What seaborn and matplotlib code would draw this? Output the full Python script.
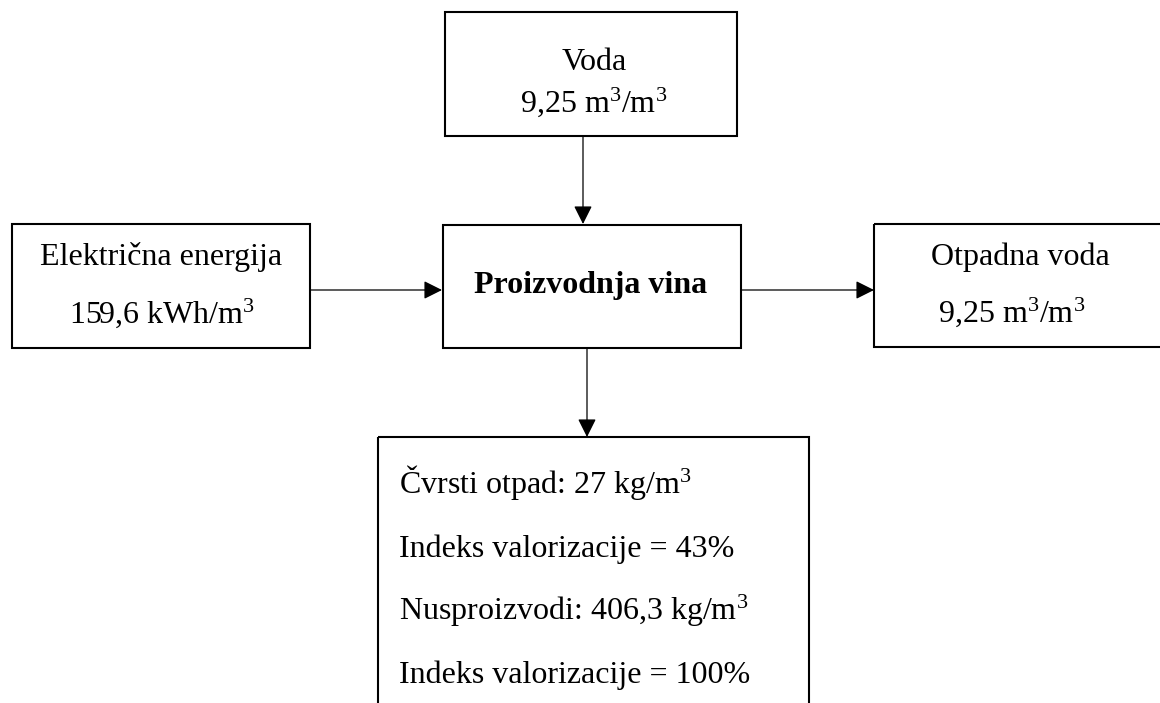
import matplotlib
matplotlib.use("Agg")
import matplotlib.pyplot as plt
from matplotlib.patches import Rectangle
import seaborn as sns

# ---- content ----
input_water_label = "Voda"
input_water_value = "9,25 m$^3$/m$^3$"
energy_label = "Električna energija"
energy_value = "159,6 kWh/m$^3$"
process_label = "Proizvodnja vina"
waste_water_label = "Otpadna voda"
waste_water_value = "9,25 m$^3$/m$^3$"
output_lines = [
    "Čvrsti otpad: 27 kg/m$^3$",
    "Indeks valorizacije = 43%",
    "Nusproizvodi: 406,3 kg/m$^3$",
    "Indeks valorizacije = 100%",
]

sns.set_theme(style="white")
plt.rcParams["font.family"] = ["Liberation Serif", "DejaVu Serif"]
plt.rcParams["mathtext.fontset"] = "custom"
plt.rcParams["mathtext.rm"] = "Liberation Serif"
plt.rcParams["mathtext.it"] = "Liberation Serif:italic"
plt.rcParams["mathtext.bf"] = "Liberation Serif:bold"
plt.rcParams["text.color"] = "black"

W, H = 1160, 703
fig = plt.figure(figsize=(W / 100, H / 100), dpi=100)
ax = fig.add_axes([0, 0, 1, 1])
ax.set_xlim(0, W)
ax.set_ylim(H, 0)
ax.axis("off")
fig.patch.set_facecolor("white")

box_lw = 1.5
fs = 23

def box(x0, y0, x1, y1):
    ax.add_patch(Rectangle((x0, y0), x1 - x0, y1 - y0, fill=False,
                           edgecolor="black", linewidth=box_lw, clip_on=False))

def arrow(x0, y0, x1, y1):
    ax.annotate("", xy=(x1, y1), xytext=(x0, y0),
                arrowprops=dict(arrowstyle="-|>,head_length=0.8,head_width=0.4",
                                mutation_scale=14, color="black", lw=0.9,
                                shrinkA=0, shrinkB=0))

# boxes
box(445, 12, 737, 136)          # Voda
box(12, 224, 310, 348)          # energy
box(443, 225, 741, 348)         # process
box(874, 224, 1175, 347)        # waste water
box(378, 437, 809, 720)         # outputs (cut off at bottom)

# arrows
arrow(583, 136, 583, 224)
arrow(310, 290, 442, 290)
arrow(741, 290, 874, 290)
arrow(587, 349, 587, 437)

# texts
kw = dict(va="baseline", fontsize=fs, color="black")
ax.text(594, 70, input_water_label, ha="center", **kw)
ax.text(594, 112, input_water_value, ha="center", **kw)
ax.text(161, 265, energy_label, ha="center", **kw)
ax.text(162, 323, energy_value, ha="center", **kw)
ax.text(591, 293, process_label, ha="center", fontweight="bold", **kw)
ax.text(1020, 265, waste_water_label, ha="center", **kw)
ax.text(1012, 322, waste_water_value, ha="center", **kw)

for y, line in zip([493, 557, 620, 683], output_lines):
    ax.text(399, y, line, ha="left", **kw)

fig.savefig("out.png", dpi=100, facecolor="white")
